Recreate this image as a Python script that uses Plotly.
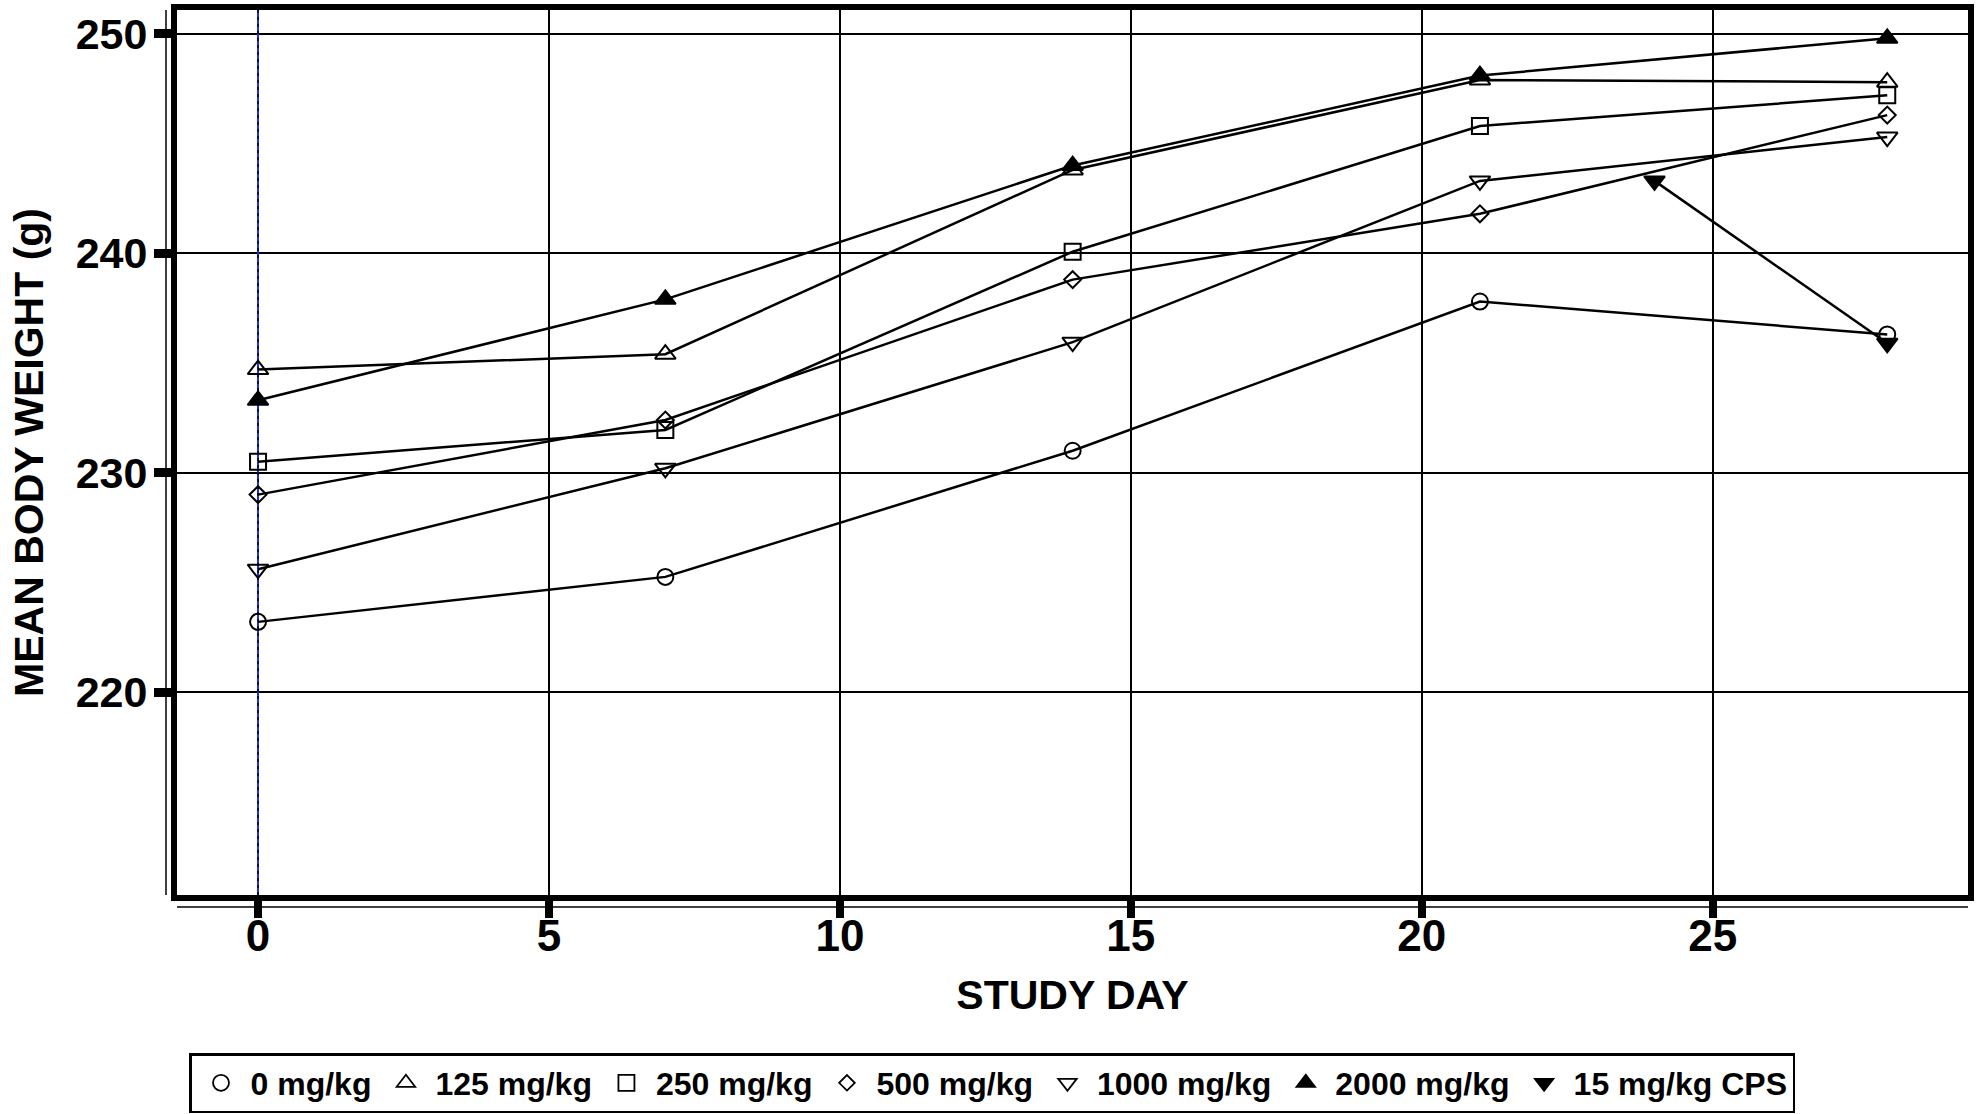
import plotly.graph_objects as go

# ---- data ----
days = [0, 7, 14, 21, 28]
w_0 = [223.2, 225.25, 231.0, 237.8, 236.3]
w_125 = [234.7, 235.4, 243.8, 247.9, 247.8]
w_250 = [230.5, 231.95, 240.07, 245.8, 247.2]
w_500 = [229.0, 232.4, 238.8, 241.8, 246.3]
w_1000 = [225.6, 230.2, 235.95, 243.3, 245.3]
w_2000 = [233.3, 237.9, 244.0, 248.1, 249.8]
cps_days = [24, 28]
w_cps = [243.3, 235.9]

series_names = ["0 mg/kg", "125 mg/kg", "250 mg/kg", "500 mg/kg",
                "1000 mg/kg", "2000 mg/kg", "15 mg/kg CPS"]
x_ticks = [0, 5, 10, 15, 20, 25]
y_ticks = [220, 230, 240, 250]

FONT = "Liberation Sans, Arial, Helvetica, sans-serif"

fig = go.Figure()

styles = [
    (days, w_0, "circle-open", 16),
    (days, w_125, "triangle-up-open", 18),
    (days, w_250, "square-open", 16),
    (days, w_500, "diamond-open", 13),
    (days, w_1000, "triangle-down-open", 18),
    (days, w_2000, "triangle-up", 18),
    (cps_days, w_cps, "triangle-down", 18),
]

for name, (xs, ys, sym, sz) in zip(series_names, styles):
    fig.add_trace(go.Scatter(
        x=xs, y=ys, name=name, mode="lines+markers", showlegend=False,
        line=dict(color="black", width=2.5),
        marker=dict(symbol=sym, size=sz, color="black",
                    line=dict(color="black", width=2)),
    ))

# legend entries: marker only (as in the reference legend)
for name, (xs, ys, sym, sz) in zip(series_names, styles):
    fig.add_trace(go.Scatter(
        x=[None], y=[None], name=name, mode="markers", showlegend=True,
        marker=dict(symbol=sym, size=16 if sz > 13 else 12, color="black",
                    line=dict(color="black", width=1.8)),
    ))

fig.update_layout(
    width=1980, height=1114,
    paper_bgcolor="white", plot_bgcolor="white",
    margin=dict(l=177, r=12, t=10, b=219, autoexpand=False),
    font=dict(family=FONT, color="black"),
    showlegend=True,
    legend=dict(
        orientation="h", xref="container", yref="container",
        x=189 / 1980, y=(1114 - 1053) / 1114, xanchor="left", yanchor="top",
        bordercolor="black", borderwidth=2.5, bgcolor="white",
        font=dict(family=FONT, size=32, color="black", weight="bold"),
        itemwidth=49,
    ),
)

fig.update_xaxes(
    range=[-1.393, 29.388], automargin=False,
    tickvals=x_ticks, ticktext=[str(v) for v in x_ticks],
    showgrid=True, gridcolor="black", gridwidth=2,
    zeroline=True, zerolinecolor="#1f2fe0", zerolinewidth=1.6,
    showline=True, linecolor="black", linewidth=6, mirror=True,
    ticks="outside", ticklen=17, tickwidth=8, tickcolor="black",
    ticklabelstandoff=-20,
    tickfont=dict(family=FONT, size=44, color="black", weight="bold"),
    title=dict(text="STUDY DAY", standoff=24,
               font=dict(family=FONT, size=41, color="black", weight="bold")),
)

fig.update_yaxes(
    range=[210.75, 251.09], automargin=False,
    tickvals=y_ticks, ticktext=[str(v) for v in y_ticks],
    showgrid=True, gridcolor="black", gridwidth=2,
    zeroline=False,
    showline=True, linecolor="black", linewidth=6, mirror=True,
    ticks="outside", ticklen=17, tickwidth=9, tickcolor="black",
    ticklabelstandoff=-2,
    tickfont=dict(family=FONT, size=43, color="black", weight="bold"),
    title=dict(text="MEAN BODY WEIGHT (g)", standoff=21,
               font=dict(family=FONT, size=41, color="black", weight="bold")),
)

# black dashes over the blue day-0 line
fig.add_shape(type="line", xref="x", yref="paper",
              x0=x_ticks[0], x1=x_ticks[0], y0=0, y1=1, layer="above",
              line=dict(color="black", width=1.4, dash="3px,4px"))

# thin offset axis lines outside the thick frame
fig.add_shape(type="line", xref="paper", yref="paper",
              x0=-0.00614, x1=-0.00614, y0=0, y1=1,
              line=dict(color="black", width=1.5))
fig.add_shape(type="line", xref="paper", yref="paper",
              x0=0, x1=1, y0=-0.0135, y1=-0.0135,
              line=dict(color="black", width=1.5))

fig.write_html("out.html",
               config={"displayModeBar": False},
               post_script="document.body.style.margin='0';"
                           "document.body.style.overflow='hidden';")
